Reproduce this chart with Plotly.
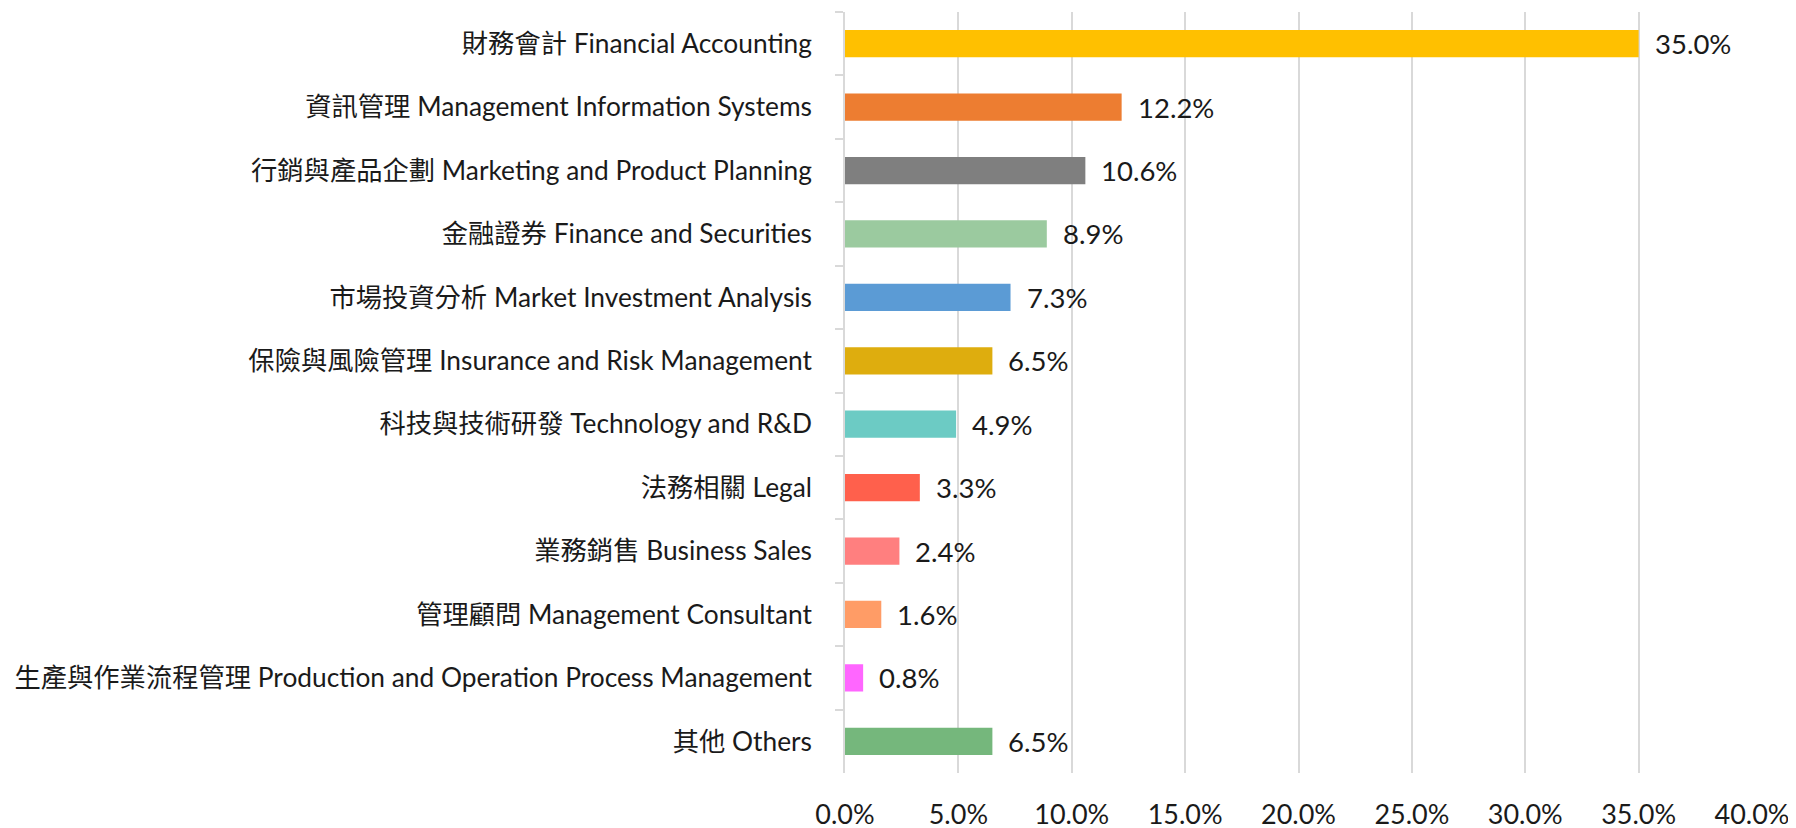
import plotly.graph_objects as go

categories = [
    "財務會計 Financial Accounting",
    "資訊管理 Management Information Systems",
    "行銷與產品企劃 Marketing and Product Planning",
    "金融證券 Finance and Securities",
    "市場投資分析 Market Investment Analysis",
    "保險與風險管理 Insurance and Risk Management",
    "科技與技術研發 Technology and R&D",
    "法務相關 Legal",
    "業務銷售 Business Sales",
    "管理顧問 Management Consultant",
    "生產與作業流程管理 Production and Operation Process Management",
    "其他 Others",
]
values = [35.0, 12.2, 10.6, 8.9, 7.3, 6.5, 4.9, 3.3, 2.4, 1.6, 0.8, 6.5]
colors = ["#FFC000", "#ED7D31", "#7F7F7F", "#9BCA9F", "#5B9BD5", "#DEAD0E",
          "#6CCBC4", "#FF604C", "#FF7F7F", "#FF9C66", "#FF66FF", "#75B77C"]
x_ticks = [0, 5, 10, 15, 20, 25, 30, 35, 40]
x_tick_labels = [f"{t:.1f}%" for t in x_ticks]

FONT = "Lato, 'Noto Sans CJK TC', sans-serif"

fig = go.Figure()
fig.add_trace(go.Bar(
    y=categories, x=values, orientation="h",
    marker=dict(color=colors, line=dict(width=0)),
    hoverinfo="skip",
))
for c, v in zip(categories, values):
    fig.add_annotation(x=v, y=c, text=f"{v:.1f}%", showarrow=False,
                       xanchor="left", yanchor="middle", xshift=14,
                       font=dict(family=FONT, size=27.5, color="#1a1a1a"))

fig.update_layout(
    width=1796, height=828,
    margin=dict(l=837, r=52, t=4, b=63),
    paper_bgcolor="white", plot_bgcolor="white",
    bargap=0.57, showlegend=False,
    font=dict(family=FONT, color="#1a1a1a"),
)
fig.update_xaxes(
    range=[0, 40], tickvals=x_ticks, ticktext=x_tick_labels,
    showgrid=True, gridcolor="#D9D9D9", gridwidth=1.5,
    zeroline=False, showline=False, automargin=False,
    tickfont=dict(family=FONT, size=27, color="#1a1a1a"),
    ticks="", ticklabelstandoff=23,
)
fig.update_yaxes(
    autorange="reversed", type="category", automargin=False,
    showline=True, linecolor="#D9D9D9", linewidth=1.5,
    ticks="outside", ticklen=8, tickcolor="#D9D9D9", tickwidth=1.5,
    tickson="boundaries", showgrid=False,
    tickfont=dict(family=FONT, size=26.3, color="#1a1a1a"),
    ticklabelstandoff=26,
)
fig.write_html("out.html")
